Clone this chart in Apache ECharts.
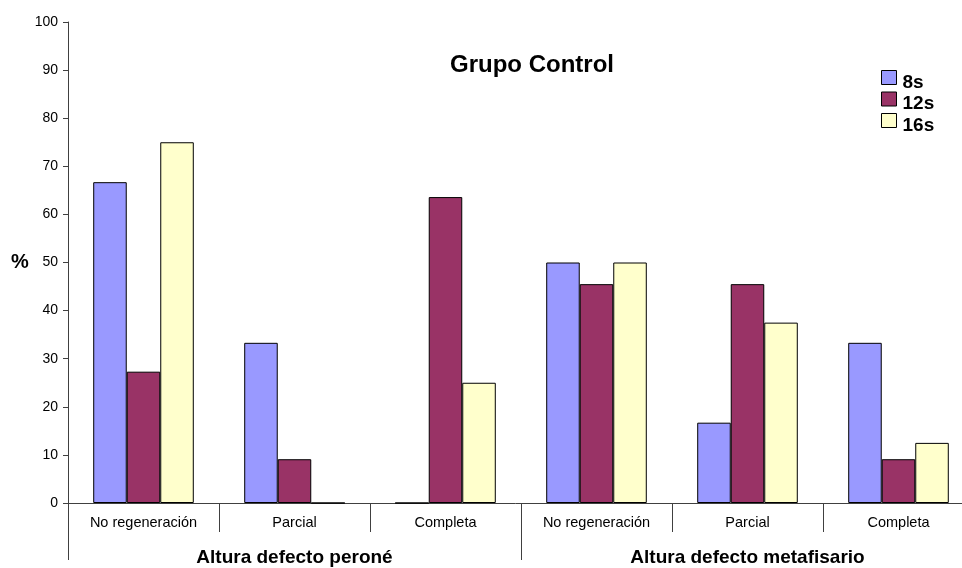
<!DOCTYPE html>
<html>
<head>
<meta charset="utf-8">
<script src="https://cdn.jsdelivr.net/npm/echarts@6/dist/echarts.min.js"></script>
<style>
  html, body { margin: 0; padding: 0; background: #fff; }
  #chart { width: 962px; height: 568px; }
</style>
</head>
<body>
<div id="chart"></div>
<script>
// Outcome categories, repeated for each defect site
const categories = ['No regeneración', 'Parcial', 'Completa', 'No regeneración', 'Parcial', 'Completa'];
const groups = ['Altura defecto peroné', 'Altura defecto metafisario'];
const seriesNames = ['8s', '12s', '16s'];

// Percentages per time point
const values8s  = [66.7, 33.3, 0, 50, 16.7, 33.3];
const values12s = [27.3, 9.1, 63.6, 45.5, 45.5, 9.1];
const values16s = [75, 0, 25, 50, 37.5, 12.5];

const yTicks = [0, 10, 20, 30, 40, 50, 60, 70, 80, 90, 100];

const colors = ['#9999FF', '#993366', '#FFFFCC'];
const FONT = '"Liberation Sans", Arial, sans-serif';
const AXIS = '#404040';

const chart = echarts.init(document.getElementById('chart'), null, { renderer: 'canvas' });

const seriesData = [values8s, values12s, values16s];

chart.setOption({
  animation: false,
  backgroundColor: '#ffffff',
  textStyle: { fontFamily: FONT },
  title: {
    text: 'Grupo Control',
    left: 527,
    top: 48,
    textAlign: 'center',
    textStyle: { fontFamily: FONT, fontSize: 24, fontWeight: 'bold', color: '#000' }
  },
  legend: {
    orient: 'vertical',
    left: 876,
    top: 65,
    itemWidth: 15,
    itemHeight: 14,
    itemGap: -0.5,
    icon: 'rect',
    data: seriesNames,
    formatter: '{t|{name}}',
    itemStyle: { borderColor: '#000', borderWidth: 1 },
    textStyle: {
      fontFamily: FONT, fontSize: 19, fontWeight: 'bold', color: '#000',
      rich: { t: { fontFamily: FONT, fontSize: 19, fontWeight: 'bold', color: '#000', padding: [10, 0, 0, 1] } }
    }
  },
  // plot area runs a little past the right edge of the canvas
  grid: { left: 68, top: 22, width: 906, bottom: 65, containLabel: false, outerBoundsMode: 'none' },
  xAxis: [
    {
      type: 'category',
      data: categories,
      boundaryGap: true,
      axisLine: { lineStyle: { color: AXIS, width: 1 } },
      axisTick: { show: true, interval: 0, length: 29, lineStyle: { color: AXIS } },
      axisLabel: { interval: 0, margin: 12, fontFamily: FONT, fontSize: 14.5, color: '#000' },
      splitLine: { show: false }
    },
    {
      type: 'category',
      data: groups,
      position: 'bottom',
      offset: 0,
      boundaryGap: true,
      axisLine: { show: false },
      axisTick: { show: true, interval: 0, length: 57, lineStyle: { color: AXIS } },
      axisLabel: { interval: 0, margin: 45, fontFamily: FONT, fontSize: 19, fontWeight: 'bold', color: '#000' },
      splitLine: { show: false }
    }
  ],
  yAxis: {
    type: 'value',
    min: yTicks[0],
    max: yTicks[yTicks.length - 1],
    interval: 10,
    name: '%',
    nameLocation: 'middle',
    nameRotate: 0,
    nameGap: 38,
    nameTextStyle: { fontFamily: FONT, fontSize: 20, fontWeight: 'bold', color: '#000' },
    axisLine: { show: true, lineStyle: { color: AXIS, width: 1 } },
    axisTick: { show: true, length: 5, lineStyle: { color: AXIS } },
    axisLabel: { margin: 10, fontFamily: FONT, fontSize: 14, color: '#000' },
    splitLine: { show: false }
  },
  series: seriesNames.map((name, i) => ({
    name: name,
    type: 'bar',
    xAxisIndex: 0,
    data: seriesData[i],
    barGap: '0%',
    barCategoryGap: '33.4%',
    itemStyle: { color: colors[i], borderColor: '#000', borderWidth: 1 }
  })),
  // y axis line continues down to the group separators
  graphic: [{
    type: 'line',
    shape: { x1: 68.5, y1: 503, x2: 68.5, y2: 560 },
    style: { stroke: AXIS, lineWidth: 1 },
    silent: true
  }]
});
</script>
</body>
</html>
